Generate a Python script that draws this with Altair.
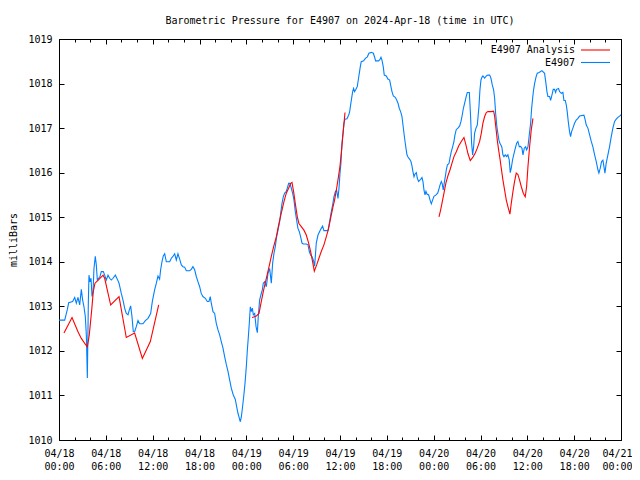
import altair as alt
import pandas as pd

# ---------------- data (hours since 2024-04-18 00:00 UTC, pressure in mbar) -------------
series_names = ["E4907 Analysis", "E4907"]

blue_hours = [0.0, 0.73, 1.07, 1.24, 1.75, 2.01, 2.22, 2.43, 2.65, 2.86, 3.03, 3.20, 3.37, 3.50, 3.59, 3.63,
              3.76, 3.84, 3.97, 4.10, 4.23, 4.36, 4.48, 4.65, 4.78, 4.91, 5.08, 5.25, 5.42, 5.68, 5.85, 6.06,
              6.28, 6.49, 6.70, 6.92, 7.22, 7.47, 7.69, 7.98, 8.20, 8.41, 8.62, 8.84, 9.01, 9.18, 9.35, 9.52,
              9.69, 9.91, 10.12, 10.33, 10.76, 11.06, 11.40, 11.74, 11.96, 12.25, 12.47, 12.68, 12.89, 13.02,
              13.19, 13.36, 13.54, 13.75, 14.18, 14.39, 14.60, 14.82, 15.03, 15.24, 15.46, 15.67, 15.88, 16.10,
              16.31, 16.74, 16.95, 17.16, 17.38, 17.59, 17.81,
              18.02, 18.22, 18.44, 18.74, 19.00, 19.21, 19.38, 19.51, 19.73, 19.94, 20.15, 20.37, 20.58, 20.79,
              21.01, 21.22, 21.44, 21.65, 21.86, 22.08, 22.33, 22.59, 22.76, 22.93, 23.10, 23.23, 23.36, 23.48,
              23.66, 23.83, 24.00, 24.13, 24.26, 24.38, 24.51, 24.64, 24.77, 24.90, 25.07, 25.24, 25.41, 25.53,
              25.70, 25.87, 26.05, 26.17, 26.34, 26.56, 26.77, 26.99, 27.20, 27.37, 27.54, 27.71, 27.88, 28.06,
              28.27, 28.40, 28.57, 28.74, 28.91, 29.08, 29.25, 29.42, 29.59, 29.76, 29.93, 30.10, 30.27, 30.44,
              30.61, 30.78, 30.96, 31.13, 31.30, 31.68, 31.90, 32.07, 32.24, 32.41, 32.58, 32.75, 32.96, 33.18,
              33.39, 33.60, 33.77, 33.94, 34.46, 34.67, 34.89, 35.06, 35.23, 35.40, 35.57, 35.74, 35.87,
              36.00, 36.12, 36.25, 36.38, 36.51, 36.64, 36.89, 37.10, 37.23, 37.36, 37.49, 37.62, 37.74, 37.87,
              38.04, 38.21, 38.34, 38.47, 38.60, 38.72, 39.02, 39.28, 39.50, 39.71, 40.01, 40.27, 40.44, 40.56,
              40.95, 41.12, 41.25, 41.37, 41.54, 41.67, 41.93, 42.14, 42.36, 42.48, 42.66, 42.83, 43.08, 43.26,
              43.43, 43.60, 43.77, 43.94, 44.07, 44.20, 44.33, 44.45, 44.58, 44.71, 44.93, 45.09, 45.22, 45.35,
              45.48, 45.61, 45.78, 45.90, 46.07, 46.33, 46.50, 46.63, 46.76, 46.89, 47.01, 47.14, 47.36, 47.53,
              47.70, 47.87, 48.04, 48.30, 48.51, 48.64, 48.81, 48.98, 49.10, 49.23, 49.36, 49.49, 49.62, 49.75,
              49.97, 50.09, 50.26, 50.43, 50.60, 50.73, 50.90, 51.11, 51.33, 51.50, 51.67, 51.80, 51.97, 52.14,
              52.31, 52.57, 52.73, 52.86, 52.99, 53.12, 53.24, 53.42, 53.59,
              53.80, 53.93, 54.06, 54.18, 54.31, 54.53, 54.74, 54.95, 55.16, 55.29, 55.38, 55.51, 55.68, 55.81,
              55.94, 56.10, 56.23, 56.36, 56.49, 56.61, 56.74, 56.87, 57.00, 57.17, 57.34, 57.51, 57.68, 57.81,
              57.94, 58.11, 58.29, 58.46, 58.63, 58.79, 58.97, 59.14, 59.31, 59.44, 59.61, 59.78, 59.91, 60.08,
              60.25, 60.42, 60.55, 60.68, 60.80, 60.93, 61.10, 61.27, 61.44, 61.61, 61.87, 62.21, 62.38, 62.51,
              62.64, 62.85, 62.98, 63.15, 63.32, 63.49, 63.62, 63.75, 64.00, 64.13, 64.35, 64.56, 64.69, 64.86,
              64.99, 65.11, 65.24, 65.41, 65.54, 65.67, 65.84, 66.05, 66.26, 66.48, 66.69, 67.25, 67.42, 67.55,
              67.76, 67.98, 68.19, 68.40, 68.62, 68.83, 69.05, 69.17, 69.34, 69.51, 69.68, 69.81, 69.94, 70.11,
              70.32, 70.53, 70.75, 70.96, 71.18, 71.39, 71.60, 71.82, 72.0]

blue_mbar = [1012.69, 1012.69, 1012.93, 1013.08, 1013.11, 1013.20, 1013.07, 1013.20, 1013.03, 1013.38, 1013.14,
             1012.99, 1012.77, 1012.36, 1011.72, 1011.39,
             1013.11, 1013.70, 1013.55, 1013.63, 1013.22, 1013.33, 1013.85, 1014.12, 1013.93, 1013.59, 1013.63,
             1013.67, 1013.78, 1013.78, 1013.70, 1013.59,
             1013.70, 1013.63, 1013.59, 1013.63, 1013.70, 1013.61, 1013.52, 1013.29, 1013.14, 1012.96, 1012.84,
             1012.81, 1012.92, 1013.01, 1012.77, 1012.43,
             1012.43, 1012.55, 1012.68, 1012.61, 1012.61, 1012.68, 1012.73, 1012.84, 1013.11, 1013.37, 1013.52,
             1013.68, 1013.61, 1013.82,
             1014.00, 1014.13, 1014.18, 1014.00, 1014.00, 1014.08, 1014.12, 1014.18, 1014.04, 1014.18, 1014.06,
             1013.93, 1013.89, 1013.88,
             1013.80, 1013.80, 1013.83, 1013.89, 1013.82, 1013.67, 1013.55,
             1013.44, 1013.29, 1013.22, 1013.18, 1013.11, 1013.11, 1013.22, 1013.07, 1012.88, 1012.84, 1012.62,
             1012.47, 1012.36, 1012.21,
             1012.06, 1011.87, 1011.69, 1011.54, 1011.35, 1011.16, 1011.01, 1010.91, 1010.75, 1010.60, 1010.49,
             1010.41, 1010.52, 1010.69,
             1010.97, 1011.27, 1011.65, 1012.02, 1012.32, 1012.62, 1012.99, 1012.88, 1012.96, 1012.81, 1012.84,
             1012.55, 1012.41, 1012.77,
             1013.14, 1013.26, 1013.37, 1013.52, 1013.55, 1013.44, 1013.74, 1013.85, 1013.52, 1013.97, 1014.19,
             1014.34, 1014.56, 1014.71,
             1014.90, 1015.09, 1015.31, 1015.46, 1015.54, 1015.57, 1015.65, 1015.76, 1015.76, 1015.65, 1015.54,
             1015.39, 1015.13, 1014.94,
             1014.75, 1014.68, 1014.56, 1014.42, 1014.40, 1014.40, 1014.38, 1014.23, 1014.15, 1014.12, 1014.04,
             1013.90, 1014.42, 1014.60,
             1014.68, 1014.75, 1014.80, 1014.70, 1014.70, 1014.90, 1015.13, 1015.28, 1015.46, 1015.57, 1015.61,
             1015.42, 1015.65,
             1015.99, 1016.21, 1016.66, 1016.88, 1017.11, 1017.20, 1017.21, 1017.29, 1017.36, 1017.52, 1017.67,
             1017.82, 1017.89, 1017.82,
             1017.87, 1017.93, 1018.08, 1018.23, 1018.38, 1018.49, 1018.51, 1018.57, 1018.60, 1018.68, 1018.70,
             1018.68, 1018.59, 1018.51,
             1018.51, 1018.54, 1018.59, 1018.53, 1018.38, 1018.19, 1018.17, 1018.10, 1018.08, 1017.97, 1017.82,
             1017.72, 1017.69, 1017.63,
             1017.56, 1017.44, 1017.37, 1017.26, 1017.07, 1016.88, 1016.70, 1016.55, 1016.40, 1016.35, 1016.30,
             1016.25, 1016.15, 1016.02,
             1015.91, 1015.97, 1016.00, 1015.88, 1015.80, 1015.85, 1015.89, 1015.80, 1015.61, 1015.50, 1015.58,
             1015.52, 1015.50, 1015.39,
             1015.30, 1015.39, 1015.47, 1015.50, 1015.54, 1015.61, 1015.72, 1015.80, 1015.75, 1015.61, 1015.77,
             1015.91, 1016.06, 1016.17,
             1016.21, 1016.33, 1016.47, 1016.58, 1016.70, 1016.85, 1016.97, 1017.00, 1017.05, 1017.15, 1017.30,
             1017.44, 1017.56, 1017.69,
             1017.80, 1017.80, 1017.26, 1016.66, 1016.40, 1016.58, 1016.88, 1017.00, 1017.07,
             1017.48, 1017.86, 1018.08, 1018.14, 1018.17, 1018.12, 1018.17, 1018.19, 1018.19, 1018.15, 1018.08,
             1017.97, 1017.86, 1017.67,
             1017.33, 1017.03, 1016.88, 1016.73, 1016.66, 1016.62, 1016.57, 1016.40, 1016.36, 1016.40, 1016.36,
             1016.40, 1016.29, 1016.00,
             1016.10, 1016.29, 1016.43, 1016.55, 1016.66, 1016.70, 1016.58, 1016.59, 1016.55, 1016.40, 1016.55,
             1016.58, 1016.51, 1016.58,
             1016.85, 1017.11, 1017.44, 1017.67, 1017.86, 1018.00, 1018.14, 1018.23, 1018.24, 1018.26, 1018.29,
             1018.23, 1018.01, 1017.82,
             1017.71, 1017.71, 1017.62, 1017.74, 1017.87, 1017.87, 1017.80, 1017.87, 1017.89, 1017.82, 1017.78,
             1017.80, 1017.62, 1017.62,
             1017.52, 1017.37, 1017.15, 1016.92, 1016.81, 1016.92, 1017.00, 1017.11, 1017.18, 1017.22, 1017.27,
             1017.29, 1017.18, 1017.07,
             1017.00, 1016.85, 1016.70, 1016.58, 1016.40, 1016.25, 1016.06, 1015.99, 1016.10, 1016.25, 1016.28,
             1016.14, 1015.99, 1016.22,
             1016.40, 1016.58, 1016.81, 1017.00, 1017.15, 1017.20, 1017.24, 1017.27, 1017.30]

red_hours = [0.64, 1.67, 2.43, 2.86, 3.37, 3.63, 3.88, 4.19, 4.39, 4.61, 5.03, 5.64, 5.85, 6.62, 7.69, 8.62,
             9.69, 10.68, 11.70, 12.77,
             24.73, 25.28, 25.62, 25.92, 26.22, 26.56, 26.86, 27.20, 27.50, 27.84, 28.14, 28.48, 28.82, 29.12,
             29.42, 29.68, 29.85, 30.06, 30.27, 30.53, 30.74, 31.04, 31.38, 31.68, 31.98, 32.24, 32.49, 32.71,
             33.01, 33.30, 33.60, 33.94, 34.24, 34.54, 34.80, 35.06, 35.31, 35.57, 35.74, 35.87, 36.00, 36.25,
             36.40, 36.64,
             48.68, 48.89, 49.06, 49.32, 49.57, 49.83, 50.09, 50.34, 50.60, 50.90, 51.20, 51.54, 51.88, 52.14,
             52.39, 52.69, 53.03, 53.33, 53.59, 53.89, 54.10, 54.31, 54.53, 54.74, 54.95, 55.38, 55.68, 55.81,
             55.98, 56.15, 56.32, 56.49, 56.66, 56.87, 57.09, 57.30, 57.51, 57.77, 57.94, 58.15, 58.36, 58.58,
             58.79, 59.00, 59.22, 59.48, 59.73, 59.91, 60.08, 60.29, 60.50, 60.72]

red_mbar = [1012.40, 1012.75, 1012.43, 1012.28, 1012.15, 1012.09, 1012.36, 1012.92, 1013.33, 1013.52, 1013.59,
            1013.70, 1013.63, 1013.03, 1013.22, 1012.30, 1012.40, 1011.83, 1012.21, 1013.03,
            1012.75, 1012.78, 1012.84, 1013.11, 1013.37, 1013.63, 1013.85, 1014.12, 1014.34, 1014.56, 1014.83,
            1015.09, 1015.35, 1015.54, 1015.65, 1015.76, 1015.78, 1015.57, 1015.31, 1015.01, 1014.86, 1014.79,
            1014.71, 1014.60, 1014.42, 1014.23, 1014.00, 1013.79, 1013.93, 1014.08, 1014.23, 1014.38, 1014.56,
            1014.75, 1014.98, 1015.20, 1015.39, 1015.65, 1015.84, 1015.99, 1016.15, 1016.60, 1016.90, 1017.35,
            1015.01, 1015.16, 1015.31, 1015.54, 1015.77, 1015.93, 1016.06, 1016.21, 1016.36, 1016.47, 1016.60,
            1016.70, 1016.79, 1016.62, 1016.43, 1016.27, 1016.35, 1016.44, 1016.55, 1016.70, 1016.88, 1017.11,
            1017.26, 1017.35, 1017.37, 1017.37, 1017.38, 1017.27, 1017.00, 1016.73, 1016.51, 1016.32, 1016.10,
            1015.84, 1015.61, 1015.39, 1015.24, 1015.07, 1015.31, 1015.57, 1015.80, 1015.99, 1015.96, 1015.84,
            1015.69, 1015.54, 1015.46, 1015.69, 1016.14, 1016.58, 1016.96, 1017.22]

red_segment = [1] * 20 + [2] * 44 + [3] * 52

x_major = list(range(0, 73, 6))
x_minor = list(range(0, 73, 2))
y_ticks = list(range(1010, 1020))

# ---------------- style ----------------
MONO = "DejaVu Sans Mono"
RED = "#ff0000"
BLUE = "#0080ff"
FS = 10

blue_df = pd.DataFrame({"hour": blue_hours, "mbar": blue_mbar})
red_df = pd.DataFrame({"hour": red_hours, "mbar": red_mbar, "seg": red_segment})

xs = alt.Scale(domain=[0, 72], nice=False, zero=False)
ys = alt.Scale(domain=[1010, 1019], nice=False, zero=False)

label_expr = ("['04/' + (18 + floor(datum.value / 24)), "
              "((datum.value % 24) < 10 ? '0' : '') + (datum.value % 24) + ':00']")


def label_axis(values, flush, flush_offset=0):
    return alt.Axis(orient="bottom", values=values, labelExpr=label_expr, ticks=False, domain=False,
                    grid=False, labelPadding=8, labelFont=MONO, labelFontSize=FS, labelColor="black",
                    labelLineHeight=13, labelBaseline="top", labelFlush=flush,
                    labelFlushOffset=flush_offset, labelOverlap=False, title=None)


main_y_axis = alt.Axis(orient="left", values=y_ticks, format="d", ticks=False, domain=False, grid=False,
                       labelPadding=7, labelFont=MONO, labelFontSize=FS, labelColor="black",
                       labelFlush=False, labelOverlap=False,
                       title="milliBars", titleFont=MONO, titleFontSize=FS, titleFontWeight="normal",
                       titleColor="black", titlePadding=9)


def tick_axis(orient, values, size):
    return alt.Axis(orient=orient, values=values, labels=False, ticks=True, tickSize=size,
                    offset=-size, domain=False, grid=False, tickColor="black", tickWidth=1, title=None)


blue = alt.Chart(blue_df).mark_line(color=BLUE, strokeWidth=1.1).encode(
    x=alt.X("hour:Q", scale=xs, axis=label_axis(x_major[:-1], False)),
    y=alt.Y("mbar:Q", scale=ys, axis=main_y_axis),
)

red = alt.Chart(red_df).mark_line(color=RED, strokeWidth=1.1).encode(
    x=alt.X("hour:Q", scale=xs, axis=tick_axis("bottom", x_major, 5)),
    y=alt.Y("mbar:Q", scale=ys, axis=tick_axis("left", y_ticks, 5)),
    detail="seg:N",
)

ghost1 = alt.Chart(blue_df).mark_line(strokeOpacity=0).encode(
    x=alt.X("hour:Q", scale=xs, axis=tick_axis("top", x_major, 5)),
    y=alt.Y("mbar:Q", scale=ys, axis=tick_axis("right", y_ticks, 5)),
)
ghost2 = alt.Chart(blue_df).mark_line(strokeOpacity=0).encode(
    x=alt.X("hour:Q", scale=xs, axis=tick_axis("bottom", x_minor, 3)),
    y=alt.Y("mbar:Q", scale=ys, axis=None),
)
ghost3 = alt.Chart(blue_df).mark_line(strokeOpacity=0).encode(
    x=alt.X("hour:Q", scale=xs, axis=tick_axis("top", x_minor, 3)),
    y=alt.Y("mbar:Q", scale=ys, axis=None),
)
# last date label, kept inside the page (right-aligned near the plot edge)
ghost4 = alt.Chart(blue_df).mark_line(strokeOpacity=0).encode(
    x=alt.X("hour:Q", scale=xs, axis=label_axis(x_major[-1:], True, 11)),
    y=alt.Y("mbar:Q", scale=ys, axis=None),
)

# legend (gnuplot style: text right-aligned, line sample to the right)
leg_layers = []
for i, (name, col) in enumerate(zip(series_names, [RED, BLUE])):
    ly = 11 + 12.5 * i
    ldf = pd.DataFrame({"label": [name]})
    leg_layers.append(alt.Chart(ldf).mark_text(align="right", baseline="middle", font=MONO,
                                                fontSize=FS, color="black").encode(
        text="label:N", x=alt.value(516), y=alt.value(ly)))
    leg_layers.append(alt.Chart(ldf).mark_rule(color=col, strokeWidth=1.1).encode(
        x=alt.value(522), x2=alt.value(551), y=alt.value(ly)))

chart = alt.layer(blue, red, ghost1, ghost2, ghost3, ghost4, *leg_layers).resolve_axis(
    x="independent", y="independent"
).properties(
    width=562, height=401,
    title=alt.TitleParams("Barometric Pressure for E4907 on 2024-Apr-18 (time in UTC)", font=MONO,
                          fontSize=FS, fontWeight="normal", color="black", anchor="middle",
                          frame="group", offset=8),
    autosize=alt.AutoSizeParams(type="none"),
    padding={"left": 51, "top": 31, "right": 11, "bottom": 32},
).configure_view(stroke="black", strokeWidth=1)

chart.save("out.html", embed_options={"renderer": "svg", "actions": False})
